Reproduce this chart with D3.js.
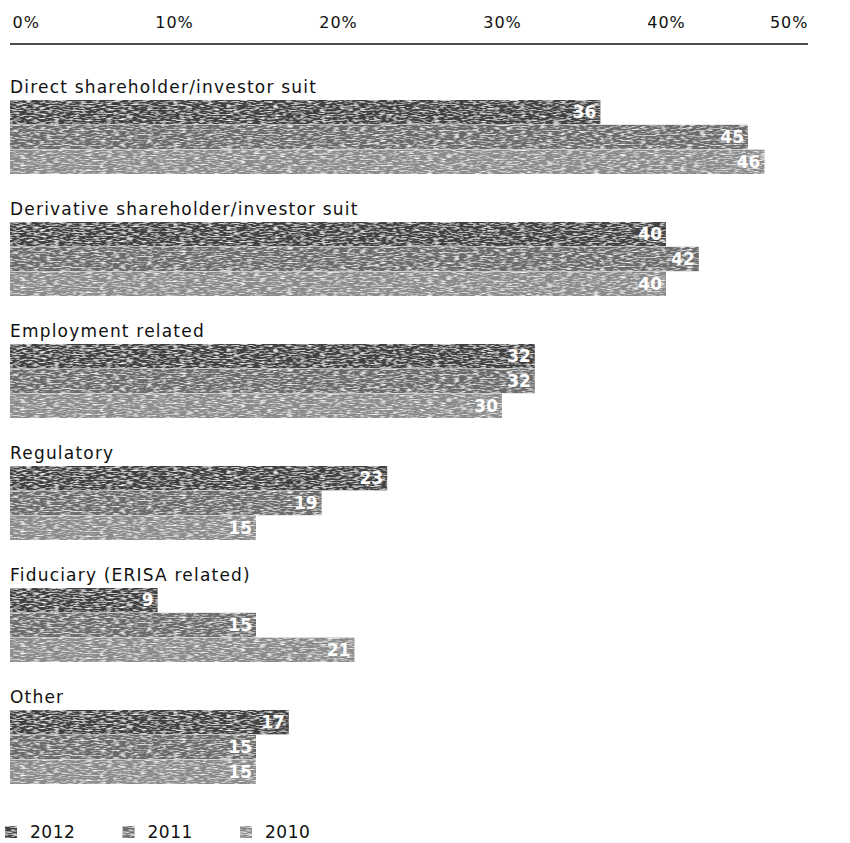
<!DOCTYPE html>
<html>
<head>
<meta charset="utf-8">
<script src="https://cdn.jsdelivr.net/npm/d3@7"></script>
<style>
  body { margin: 0; background: #fff; }
  text { font-family: "DejaVu Sans", sans-serif; fill: #111; }
  .val { fill: #fff; font-weight: bold; }
</style>
</head>
<body>
<svg id="chart"></svg>
<script>
// data
var categories = ["Direct shareholder/investor suit", "Derivative shareholder/investor suit",
    "Employment related", "Regulatory", "Fiduciary (ERISA related)", "Other"];
var years = ["2012", "2011", "2010"];
var values2012 = [36, 40, 32, 23, 9, 17];
var values2011 = [45, 42, 32, 19, 15, 15];
var values2010 = [46, 40, 30, 15, 21, 15];
var tickValues = [0, 10, 20, 30, 40, 50];

var seriesByYear = {"2012": values2012, "2011": values2011, "2010": values2010};
var colors = {"2012": "#404040", "2011": "#6a6a6a", "2010": "#8a8a8a"};

var width = 850, height = 843;
var svg = d3.select("#chart").attr("width", width).attr("height", height);

// grainy "scanned" texture
var defs = svg.append("defs");
var f = defs.append("filter").attr("id", "grain")
    .attr("x", 0).attr("y", 0).attr("width", "100%").attr("height", "100%");
f.append("feTurbulence").attr("type", "fractalNoise")
    .attr("baseFrequency", "0.15 0.8").attr("numOctaves", 2).attr("seed", 4).attr("result", "n");
f.append("feColorMatrix").attr("in", "n").attr("type", "matrix")
    .attr("values", "0 0 0 0 1  0 0 0 0 1  0 0 0 0 1  0 0 0 -2.4 1.3").attr("result", "w");
f.append("feComposite").attr("in", "w").attr("in2", "SourceGraphic").attr("operator", "in").attr("result", "wc");
var fm = f.append("feMerge");
fm.append("feMergeNode").attr("in", "SourceGraphic");
fm.append("feMergeNode").attr("in", "wc");

var x = d3.scaleLinear().domain([0, 50]).range([10, 830]);

// top axis
var axisG = svg.append("g").attr("transform", "translate(0,28)")
    .call(d3.axisTop(x).tickValues(tickValues).tickSize(0).tickPadding(0)
        .tickFormat(function (d) { return d + "%"; }));
axisG.select(".domain").remove();
axisG.selectAll("text").style("font-size", "16px").style("letter-spacing", "1px")
    .style("font-family", "DejaVu Sans, sans-serif").attr("fill", "#111");
axisG.selectAll(".tick").filter(function (d) { return d === 0; }).select("text")
    .attr("text-anchor", "start").attr("dx", 2);
axisG.selectAll(".tick").filter(function (d) { return d === 50; }).select("text")
    .attr("text-anchor", "end").attr("x", 808 - x(50));

svg.append("line").attr("x1", 10).attr("x2", 808).attr("y1", 44).attr("y2", 44)
    .attr("stroke", "#111").attr("stroke-width", 1.6);

// groups
var yGroup = d3.scaleBand().domain(categories).range([78, 78 + 6 * 122]);
var yBar = d3.scaleBand().domain(years).range([22, 96]).paddingInner(0.02);

var group = svg.selectAll("g.cat").data(categories).enter()
    .append("g").attr("class", "cat")
    .attr("transform", function (d) { return "translate(0," + yGroup(d) + ")"; });

group.append("text").attr("x", 10).attr("y", 15)
    .style("font-size", "17px").style("letter-spacing", "1.2px")
    .text(function (d) { return d; });

var bars = group.selectAll("g.bar")
    .data(function (d, i) { return years.map(function (yr) { return {year: yr, value: seriesByYear[yr][i]}; }); })
    .enter().append("g").attr("class", "bar");

bars.append("rect")
    .attr("x", x(0))
    .attr("y", function (d) { return yBar(d.year); })
    .attr("width", function (d) { return x(d.value) - x(0); })
    .attr("height", yBar.bandwidth())
    .attr("fill", function (d) { return colors[d.year]; })
    .attr("filter", "url(#grain)");

bars.append("text").attr("class", "val")
    .attr("x", function (d) { return x(d.value) - 4; })
    .attr("y", function (d) { return yBar(d.year) + yBar.bandwidth() / 2; })
    .attr("dy", ".36em")
    .attr("text-anchor", "end")
    .style("font-size", "17px")
    .text(function (d) { return d.value; });

// legend
var legend = svg.append("g").attr("transform", "translate(0,832)");
var lx = d3.scalePoint().domain(years).range([5, 240]);
var item = legend.selectAll("g").data(years).enter().append("g")
    .attr("transform", function (d) { return "translate(" + lx(d) + ",0)"; });
item.append("rect").attr("x", 0).attr("y", -6).attr("width", 12).attr("height", 12)
    .attr("fill", function (d) { return colors[d]; }).attr("filter", "url(#grain)");
item.append("text").attr("x", 25).attr("y", 0).attr("dy", ".36em")
    .style("font-size", "17px").style("letter-spacing", "0.5px").text(function (d) { return d; });
</script>
</body>
</html>
